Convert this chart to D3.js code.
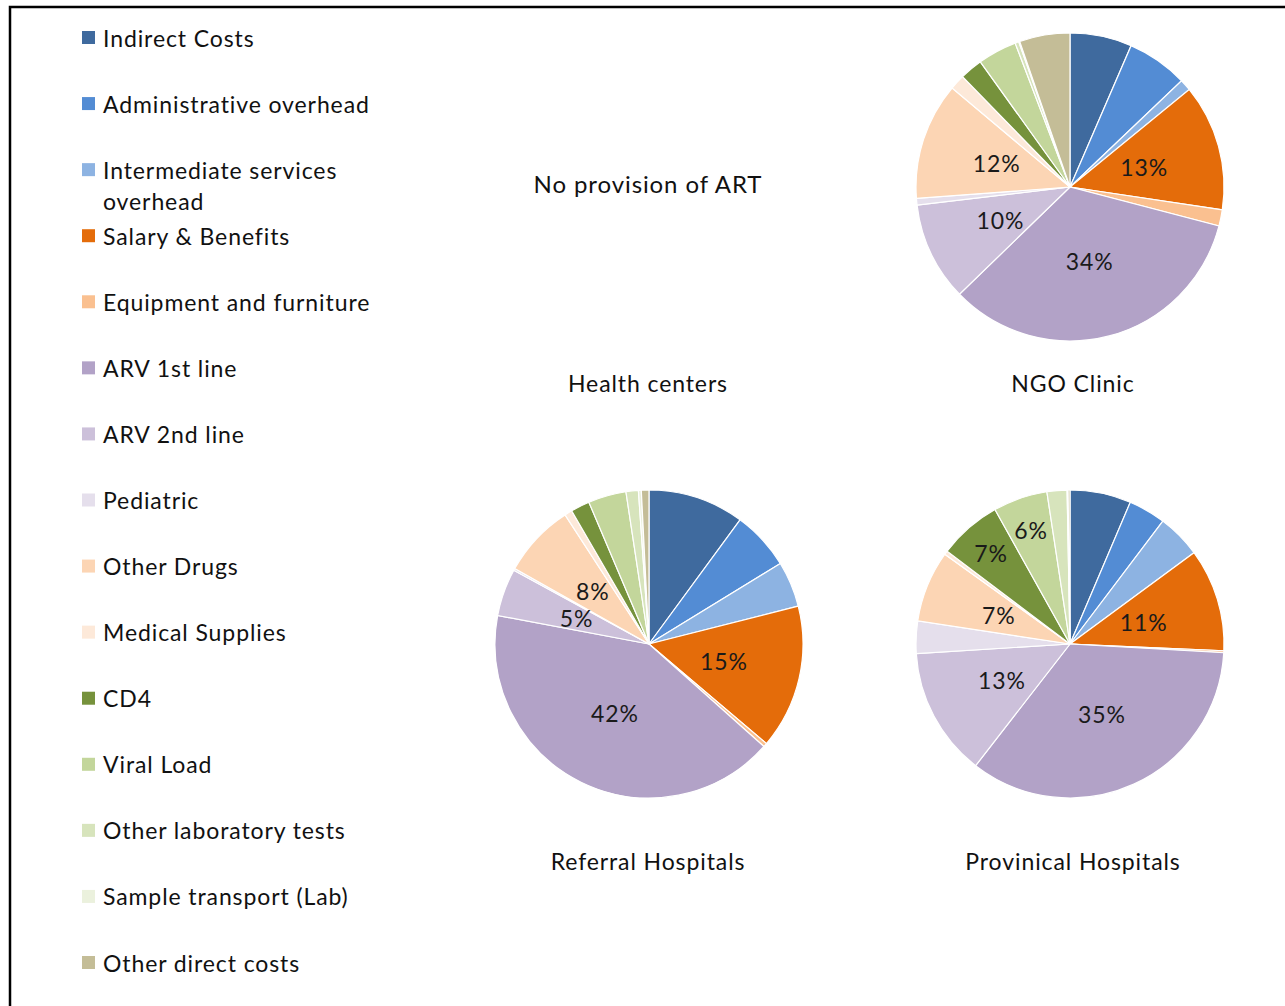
<!DOCTYPE html>
<html>
<head>
<meta charset="utf-8">
<script src="https://cdn.jsdelivr.net/npm/d3@7"></script>
<style>
  html, body { margin: 0; padding: 0; background: #fff; }
  svg { display: block; }
  text { font-family: Lato, "Open Sans", sans-serif; fill: #111; }
</style>
</head>
<body>
<svg id="chart" width="1285" height="1006"></svg>
<script>
// ---- Data ----
const categories = [
  "Indirect Costs", "Administrative overhead", "Intermediate services overhead",
  "Salary & Benefits", "Equipment and furniture", "ARV 1st line", "ARV 2nd line",
  "Pediatric", "Other Drugs", "Medical Supplies", "CD4", "Viral Load",
  "Other laboratory tests", "Sample transport (Lab)", "Other direct costs"
];
const colors = [
  "#3F6A9E", "#538CD4", "#8DB3E2", "#E46C0A", "#FAC090", "#B2A2C7", "#CCC0DA",
  "#E5DFEC", "#FCD5B4", "#FDE9D9", "#76923C", "#C3D69B", "#D7E4BC", "#EBF1DD", "#C4BD97"
];
// percentage shares (order = categories)
const ngoClinic   = [6.5, 6.4, 1.2, 13.3, 1.7, 33.7, 10.4, 0.7, 12.3, 1.6, 2.4, 4.1, 0.4, 0.1, 5.3];
const referral    = [10.1, 6.2, 4.8, 15.2, 0.4, 41.5, 5.0, 0.2, 7.7, 0.8, 2.0, 4.0, 1.3, 0.3, 0.8];
const provincial  = [6.4, 3.9, 4.6, 10.8, 0.2, 34.6, 13.5, 3.4, 7.5, 0.4, 6.6, 5.7, 2.1, 0.1, 0.2];
// displayed labels per pie (null = no label)
const ngoLabels        = [null, null, null, "13%", null, "34%", "10%", null, "12%", null, null, null, null, null, null];
const referralLabels   = [null, null, null, "15%", null, "42%", "5%", null, "8%", null, null, null, null, null, null];
const provincialLabels = [null, null, null, "11%", null, "35%", "13%", null, "7%", null, "7%", "6%", null, null, null];
const panelTitles = ["Health centers", "NGO Clinic", "Referral Hospitals", "Provinical Hospitals"];
const noArtText = "No provision of ART";

// ---- Drawing ----
const svg = d3.select("#chart");
const color = d3.scaleOrdinal().domain(categories).range(colors);
const FS = 23, LS = "0.9px";

// frame
svg.append("path")
  .attr("d", "M10,1006 L10,7 L1285,7")
  .attr("fill", "none").attr("stroke", "#000").attr("stroke-width", 2.5);

// legend
const legend = svg.append("g");
const legendY = d3.scalePoint().domain(categories).range([37.5, 962.5]);
categories.forEach(c => {
  const y = legendY(c);
  legend.append("rect").attr("x", 82).attr("y", y - 6.5).attr("width", 13).attr("height", 13)
    .attr("fill", color(c));
  const t = legend.append("text").attr("x", 103).attr("y", y)
    .attr("dominant-baseline", "central").attr("font-size", FS)
    .style("letter-spacing", LS);
  if (c === "Intermediate services overhead") {
    t.append("tspan").attr("x", 103).text("Intermediate services");
    t.append("tspan").attr("x", 103).attr("dy", 31).text("overhead");
  } else {
    t.text(c);
  }
});

const R = 154;
const pie = d3.pie().sort(null).value(d => d.v);
const arc = d3.arc().innerRadius(0).outerRadius(R);
// label placement (style): most labels at half radius, crowded small ones pushed out
const outerLabelCats = new Set(["CD4", "Viral Load"]);
const innerLabelArc = d3.arc().innerRadius(R * 0.5).outerRadius(R * 0.5);
const outerLabelArc = d3.arc().innerRadius(R * 0.78).outerRadius(R * 0.78);

function drawPie(cx, cy, values, labels) {
  const g = svg.append("g").attr("transform", `translate(${cx},${cy})`);
  const data = pie(values.map((v, i) => ({ v, c: categories[i], l: labels[i] })));
  g.selectAll("path").data(data).join("path")
    .attr("d", arc).attr("fill", d => color(d.data.c))
    .attr("stroke", "#fff").attr("stroke-width", 1.2);
  g.selectAll("text").data(data.filter(d => d.data.l)).join("text")
    .attr("transform", d => {
      const la = outerLabelCats.has(d.data.c) ? outerLabelArc : innerLabelArc;
      return `translate(${la.centroid(d)})`;
    })
    .attr("text-anchor", "middle").attr("dominant-baseline", "central")
    .attr("font-size", FS).style("letter-spacing", LS).style("fill", "#1a1a1a")
    .text(d => d.data.l);
}

drawPie(1070, 187, ngoClinic, ngoLabels);
drawPie(649, 644, referral, referralLabels);
drawPie(1070, 644, provincial, provincialLabels);

svg.append("text").attr("x", 648).attr("y", 183).attr("text-anchor", "middle")
  .attr("dominant-baseline", "central").attr("font-size", FS + 1)
  .style("letter-spacing", LS).text(noArtText);

const titlePos = [[648, 383], [1073, 383], [648, 861], [1073, 861]];
panelTitles.forEach((t, i) => {
  svg.append("text").attr("x", titlePos[i][0]).attr("y", titlePos[i][1])
    .attr("text-anchor", "middle").attr("dominant-baseline", "central")
    .attr("font-size", FS).style("letter-spacing", LS).text(t);
});
</script>
</body>
</html>
